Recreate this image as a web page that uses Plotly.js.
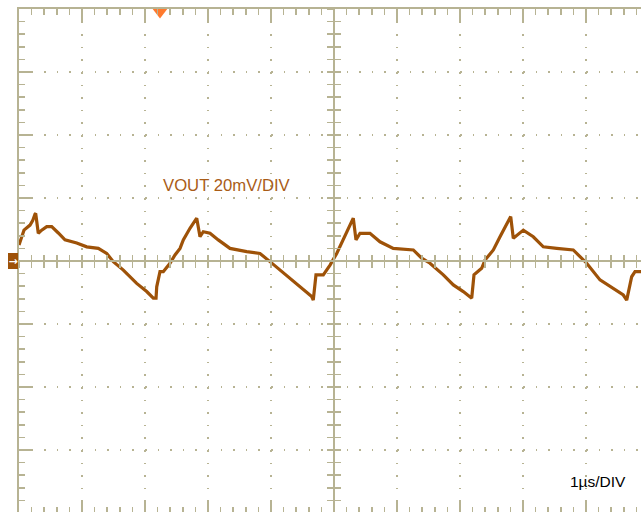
<!DOCTYPE html>
<html>
<head>
<meta charset="utf-8">
<script src="https://cdn.plot.ly/plotly-3.0.1.min.js"></script>
<style>html,body{margin:0;padding:0;background:#fff;}#chart{width:641px;height:512px;}</style>
</head>
<body>
<div id="chart"></div>
<script>
// Time in microseconds (1 µs/DIV), voltage in mV (20 mV/DIV, AC ripple around 0)
const timeUs = [
  0.000,0.079,0.175,0.217,0.254,0.265,0.306,0.360,0.440,0.519,0.624,0.730,0.916,1.075,1.259,1.392,1.497,1.656,1.868,2.027,2.132,2.175,2.186,2.238,2.290,2.397,2.476,2.556,
  2.608,2.714,2.821,2.873,2.925,3.032,3.163,3.349,3.614,3.825,3.984,4.143,4.354,4.513,4.646,4.671,4.714,4.830,4.937,5.043,
  5.148,5.254,5.306,5.349,5.413,5.571,5.730,5.941,6.259,6.392,6.524,6.735,6.894,7.052,7.186,7.222,7.344,7.397,
  7.529,7.635,7.741,7.805,7.846,7.952,8.005,8.163,8.322,8.535,8.798,8.905,9.011,9.222,9.433,9.592,9.646,9.725,9.778,9.873
];
const voutMv = [
  5.1,9.8,11.4,12.8,14.9,15.1,8.8,9.8,10.9,10.9,8.9,6.7,5.7,4.5,4.0,2.4,-0.2,-2.9,-7.1,-9.7,-11.8,-11.8,-8.2,-3.4,-3.4,-0.7,1.9,4.0,
  6.7,10.4,13.6,7.7,9.3,8.8,6.7,4.0,3.0,2.4,-0.2,-2.9,-6.6,-9.2,-11.3,-12.4,-4.4,-4.4,-1.3,2.4,
  6.7,11.4,13.6,6.7,8.8,8.8,6.1,4.0,3.5,0.9,-0.7,-4.4,-7.6,-9.7,-11.8,-4.4,-2.3,0.3,
  3.5,7.7,12.0,14.1,7.2,8.8,9.8,7.7,4.5,4.0,3.5,1.4,-0.7,-6.0,-8.7,-10.8,-12.4,-5.0,-3.4,-3.4
];
const xRange = [0, 9.873];     // visible part of the 10-division screen
const yRange = [-79.68, 80];   // visible part of the 8-division screen
const triggerUs = [2.238];
const triggerMv = [80];
const channelLabel = 'VOUT 20mV/DIV';
const timebaseLabel = '1µs/DIV';

const G = '#b7b393';
const BROWN = '#9e5208';

const dots = '1.5px,11.1px';
const hidden = {showticklabels:false, zeroline:false, showgrid:false};

const traces = [
  {x: timeUs, y: voutMv, type:'scatter', mode:'lines', line:{color:BROWN, width:3.2}, hoverinfo:'skip', showlegend:false},
  {x: triggerUs, y: triggerMv, type:'scatter', mode:'markers', marker:{symbol:'triangle-down', size:19, color:'#ff7a2e'}, cliponaxis:true, hoverinfo:'skip', showlegend:false},
  {x:[], y:[], xaxis:'x2', yaxis:'y', showlegend:false, hoverinfo:'skip'},
  {x:[], y:[], xaxis:'x3', yaxis:'y', showlegend:false, hoverinfo:'skip'},
  {x:[], y:[], xaxis:'x4', yaxis:'y', showlegend:false, hoverinfo:'skip'},
  {x:[], y:[], xaxis:'x', yaxis:'y2', showlegend:false, hoverinfo:'skip'},
  {x:[], y:[], xaxis:'x', yaxis:'y3', showlegend:false, hoverinfo:'skip'}
];

const ctrY = (0 - yRange[0]) / (yRange[1] - yRange[0]);
const ctrX = (5 - xRange[0]) / (xRange[1] - xRange[0]);

const layout = {
  width:641, height:512, autosize:false,
  margin:{l:19, r:0, t:9, b:0, pad:0},
  paper_bgcolor:'#ffffff', plot_bgcolor:'#ffffff',
  showlegend:false,
  font:{family:'Liberation Sans, Arial, sans-serif'},
  xaxis:{range:xRange, side:'top', showline:true, linecolor:G, linewidth:2,
    ticks:'inside', ticklen:13, tickwidth:1.5, tickcolor:G, tick0:0, dtick:1,
    showticklabels:false, zeroline:false, showgrid:true, gridcolor:G, gridwidth:1.5, griddash:dots,
    minor:{tick0:0, dtick:0.2, ticks:'inside', ticklen:6, tickwidth:1.5, tickcolor:G, showgrid:false},
    fixedrange:true},
  yaxis:{range:yRange, side:'left', showline:true, linecolor:G, linewidth:2,
    ticks:'inside', ticklen:13, tickwidth:1.5, tickcolor:G, tick0:0, dtick:20,
    showticklabels:false, zeroline:false, showgrid:true, gridcolor:G, gridwidth:1.5, griddash:dots,
    minor:{tick0:0, dtick:4, ticks:'inside', ticklen:6, tickwidth:1.5, tickcolor:G, showgrid:false},
    fixedrange:true},
  xaxis2:Object.assign({overlaying:'x', anchor:'free', position:ctrY, side:'bottom', range:xRange,
    showline:true, linecolor:G, linewidth:2, ticks:'outside', ticklen:6, tickwidth:1.5, tickcolor:G, tick0:0, dtick:0.2}, hidden),
  xaxis3:Object.assign({overlaying:'x', anchor:'free', position:ctrY, side:'bottom', range:xRange,
    showline:false, ticks:'inside', ticklen:6, tickwidth:1.5, tickcolor:G, tick0:0, dtick:0.2}, hidden),
  xaxis4:Object.assign({overlaying:'x', anchor:'free', position:0, side:'bottom', range:xRange,
    showline:false, ticks:'inside', ticklen:12, tickwidth:1.5, tickcolor:G, tick0:0, dtick:1,
    minor:{tick0:0, dtick:0.2, ticks:'inside', ticklen:5, tickwidth:1.5, tickcolor:G, showgrid:false}}, hidden),
  yaxis2:Object.assign({overlaying:'y', anchor:'free', position:ctrX, side:'left', range:yRange,
    showline:true, linecolor:G, linewidth:2, ticks:'outside', ticklen:6, tickwidth:1.5, tickcolor:G, tick0:0, dtick:4}, hidden),
  yaxis3:Object.assign({overlaying:'y', anchor:'free', position:ctrX, side:'left', range:yRange,
    showline:false, ticks:'inside', ticklen:6, tickwidth:1.5, tickcolor:G, tick0:0, dtick:4}, hidden),
  annotations:[
    {xref:'paper', yref:'paper', x:0.334, y:0.650, xanchor:'center', yanchor:'middle', showarrow:false,
     text:channelLabel, font:{family:'Liberation Sans, Arial, sans-serif', size:16.7, color:'#a95c17'}},
    {xref:'paper', yref:'paper', x:0.931, y:0.0616, xanchor:'center', yanchor:'middle', showarrow:false,
     text:timebaseLabel, font:{family:'Liberation Sans, Arial, sans-serif', size:15.5, color:'#000000'}},
    {xref:'paper', yref:'y', x:0, y:0, xanchor:'right', yanchor:'middle', xshift:-1, showarrow:false,
     text:'<b>→</b>', font:{family:'DejaVu Sans, sans-serif', size:11, color:'#ffffff'},
     bgcolor:BROWN, width:10, height:16, borderpad:0, borderwidth:0}
  ]
};

Plotly.newPlot('chart', traces, layout, {staticPlot:true, displayModeBar:false});
</script>
</body>
</html>
